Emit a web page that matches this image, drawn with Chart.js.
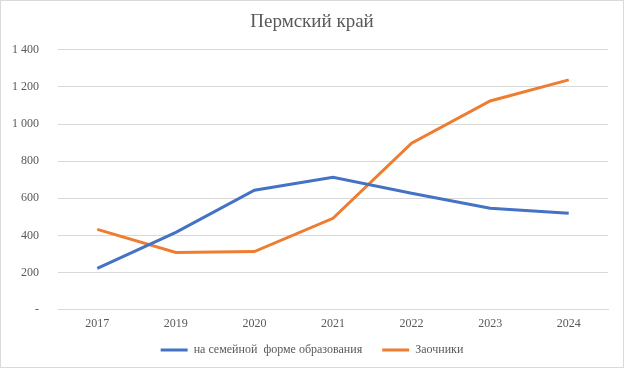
<!DOCTYPE html>
<html><head><meta charset="utf-8">
<script src="https://cdn.jsdelivr.net/npm/chart.js@4/dist/chart.umd.min.js"></script>
<style>
html,body{margin:0;padding:0;background:#fff;}
#wrap{position:relative;width:624px;height:368px;box-sizing:border-box;border:1px solid #d9d9d9;}
</style></head><body>
<div id="wrap"><canvas id="c"></canvas></div>
<script>
const years = ['2017','2019','2020','2021','2022','2023','2024'];
const familyForm = [222, 416, 643, 713, 627, 546, 519];
const extramural = [432, 308, 313, 492, 897, 1124, 1238];
const seriesNames = ['на семейной  форме образования', 'Заочники'];
const titleText = 'Пермский край';

const fmt = v => v === 0 ? '-' : String(v).replace(/\B(?=(\d{3})+(?!\d))/g, ' ');

const legendShift = {
  id: 'legendShift',
  afterLayout(chart) { const l = chart.legend; if (l) { l.top -= 14; l.bottom += 1; } }
};

new Chart(document.getElementById('c'), {
  type: 'line',
  data: {
    labels: years,
    datasets: [
      {label: seriesNames[0], data: familyForm, borderColor: '#4472c4', backgroundColor: '#4472c4', borderWidth: 3, pointRadius: 0, tension: 0},
      {label: seriesNames[1], data: extramural, borderColor: '#ed7d31', backgroundColor: '#ed7d31', borderWidth: 3, pointRadius: 0, tension: 0}
    ]
  },
  plugins: [legendShift],
  options: {
    responsive: true, maintainAspectRatio: false, animation: false,
    layout: {padding: {left: 0, right: 0, top: 6, bottom: 1}},
    plugins: {
      title: {display: true, text: titleText, color: '#595959', font: {family: 'Liberation Serif', size: 19, weight: 'normal'}, padding: {top: 4, bottom: 16}},
      legend: {position: 'bottom', maxHeight: 28, labels: {color: '#595959', font: {family: 'Liberation Serif', size: 12}, boxWidth: 27, boxHeight: 3, padding: 20,
        generateLabels: chart => chart.data.datasets.map((d, i) => ({text: d.label, fillStyle: d.borderColor, strokeStyle: d.borderColor, lineWidth: 0, datasetIndex: i, fontColor: '#595959'}))}},
      tooltip: {enabled: false}
    },
    scales: {
      x: {offset: true, grid: {display: false, drawTicks: false}, border: {color: '#d9d9d9'},
          ticks: {color: '#595959', font: {family: 'Liberation Serif', size: 12}, padding: 7}},
      y: {min: 0, max: 1400, grid: {color: '#d9d9d9', drawTicks: false}, border: {display: false},
          afterFit: s => { s.width = 57; },
          ticks: {stepSize: 200, color: '#595959', font: {family: 'Liberation Serif', size: 12}, padding: 19, callback: v => fmt(v)}},
      yRight: {position: 'right', grid: {display: false, drawTicks: false}, border: {display: false},
          ticks: {display: false}, afterFit: s => { s.width = 15; }}
    }
  }
});
</script></body></html>
